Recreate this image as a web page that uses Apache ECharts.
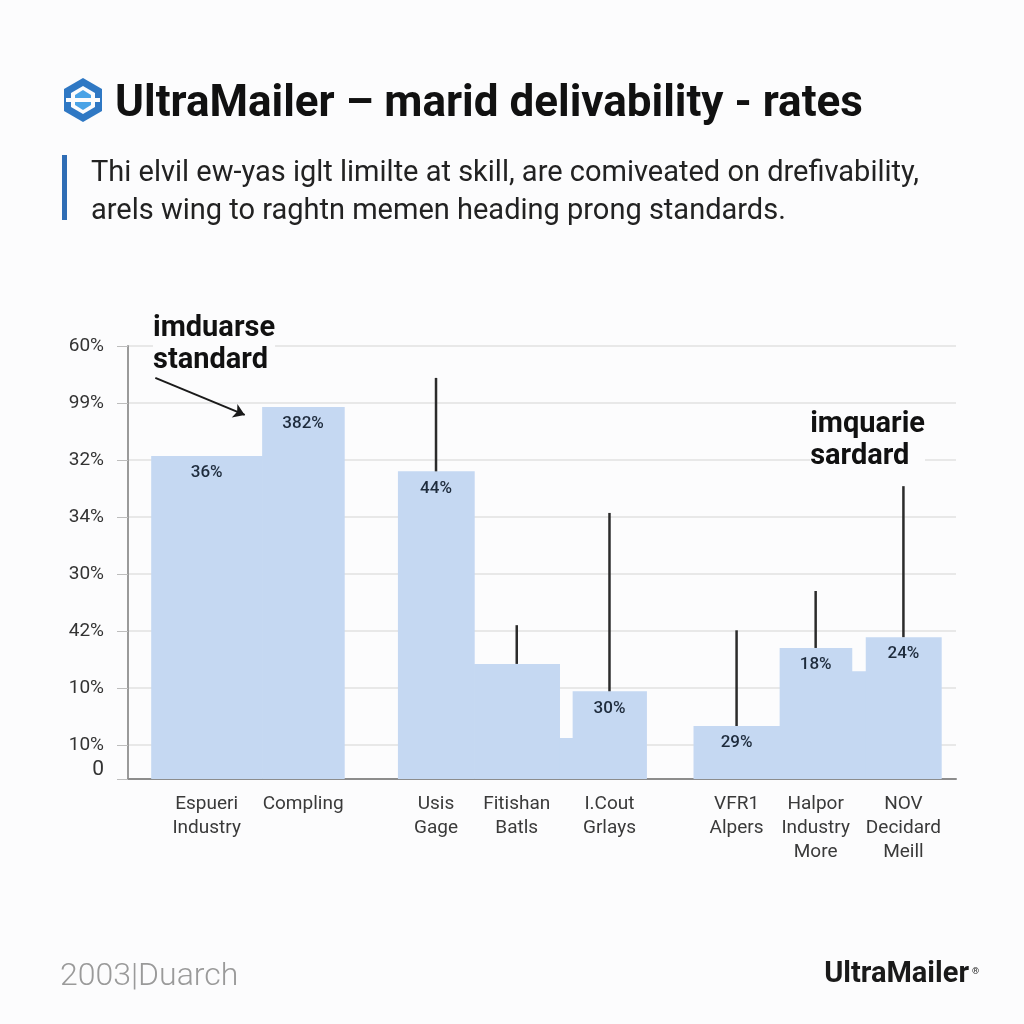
<!DOCTYPE html>
<html lang="en">

<head>
    <title>UltraMailer delivability</title>
    <meta charset="UTF-8">
    <style type="text/css">
        html,
        body {
            margin: 0px;
            width: 100%;
            height: 100%;
            background: #fcfcfd;
        }
    </style>
    <script type="text/javascript" src="https://cdn.jsdelivr.net/npm/echarts@6/dist/echarts.min.js"></script>
</head>

<body onload="draw()">
    <div id="chart" style="width: 1024px; height: 1024px;"></div>
</body>

<script type="text/javascript">
    // bars (two of them are the little unlabeled steps)
    var names = ['Espueri\nIndustry', 'Compling', 'Usis\nGage', 'Fitishan\nBatls', '', 'I.Cout\nGrlays', 'VFR1\nAlpers', 'Halpor\nIndustry\nMore', '', 'NOV\nDecidard\nMeill'];
    var binStart = [2.8, 16.2, 32.6, 41.8, 52.1, 53.7, 68.3, 78.7, 87.4, 89.1];
    var binEnd = [16.2, 26.1, 41.8, 52.1, 53.7, 62.6, 78.7, 87.4, 89.1, 98.2];
    var heights = [56.7, 65.3, 54.0, 20.2, 7.2, 15.4, 9.3, 23.0, 18.9, 24.9];
    var valueLabels = ['36%', '382%', '44%', '', '', '30%', '29%', '18%', '', '24%'];
    var whiskerTop = [null, null, 70.4, 27.0, null, 46.7, 26.1, 33.0, null, 51.4];

    // y ticks
    var yTickValues = [0, 6, 16, 26, 36, 46, 56, 66, 76];
    var yTickLabels = ['0', '10%', '10%', '42%', '30%', '34%', '32%', '99%', '60%'];

    // annotation arrow (data space)
    var arrowFrom = [3.3, 70.4];
    var arrowTo = [14.1, 63.9];

    function draw() {
        var container = document.getElementById("chart");
        var chart = echarts.init(container);

        var barData = [];
        var whiskerData = [];
        var centers = [];
        for (var i = 0; i < names.length; i++) {
            var c = (binStart[i] + binEnd[i]) / 2;
            barData.push([binStart[i], binEnd[i], heights[i]]);
            if (whiskerTop[i] != null) whiskerData.push([c, heights[i], whiskerTop[i]]);
            if (names[i]) centers.push(c);
        }
        var xNames = names.filter(function (n) { return n; });

        var font = 'Roboto, "Liberation Sans", sans-serif';

        var options = {
            backgroundColor: '#fcfcfd',
            textStyle: { fontFamily: font },
            grid: { left: 128, right: 68, top: 346, bottom: 245 },
            xAxis: {
                type: 'value',
                min: 0,
                max: 100,
                axisLine: { show: true, lineStyle: { color: '#8c8c8c', width: 2 } },
                axisTick: { show: false },
                splitLine: { show: false },
                axisLabel: {
                    customValues: centers,
                    formatter: function (v) {
                        for (var k = 0; k < centers.length; k++) {
                            if (Math.abs(centers[k] - v) < 0.01) return xNames[k];
                        }
                        return '';
                    },
                    color: '#3a3a3a',
                    fontSize: 19,
                    lineHeight: 24,
                    margin: 13
                }
            },
            yAxis: {
                type: 'value',
                min: 0,
                max: 76,
                axisLine: { show: true, lineStyle: { color: '#9a9a9a', width: 2 } },
                axisTick: {
                    show: true,
                    customValues: yTickValues,
                    length: 11,
                    lineStyle: { color: '#bdbdbd' }
                },
                splitLine: { show: true, lineStyle: { color: '#e8e8e8', width: 2 } },
                axisLabel: {
                    customValues: yTickValues,
                    formatter: function (v) {
                        var k = yTickValues.indexOf(v);
                        if (k === 0) return '{z|0}';
                        return k >= 0 ? yTickLabels[k] : '';
                    },
                    rich: { z: { fontSize: 21, color: '#333', padding: [0, 0, 18, 0] } },
                    color: '#333',
                    fontSize: 19,
                    margin: 24
                }
            },
            graphic: [
                {
                    type: 'polygon',
                    shape: { points: [[83, 78], [102, 89], [102, 111], [83, 122], [64, 111], [64, 89]] },
                    style: { fill: '#2f78c4' }
                },
                {
                    type: 'polygon',
                    shape: { points: [[83, 86], [95, 93], [95, 107], [83, 114], [71, 107], [71, 93]] },
                    style: { fill: '#fcfcfd' }
                },
                {
                    type: 'polygon',
                    shape: { points: [[83, 90], [91, 95], [91, 105], [83, 110], [75, 105], [75, 95]] },
                    style: { fill: '#4aa3e6' }
                },
                { type: 'rect', shape: { x: 66, y: 98, width: 34, height: 4 }, style: { fill: '#fcfcfd' } },
                {
                    type: 'text', left: 115, top: 83,
                    style: { text: 'UltraMailer – marid delivability - rates', font: 'bold 44px ' + font, fill: '#111' }
                },
                { type: 'rect', shape: { x: 62, y: 155, width: 5, height: 65 }, style: { fill: '#2f6db5' } },
                {
                    type: 'text', left: 91, top: 155,
                    style: {
                        text: 'Thi elvil ew-yas iglt limilte at skill, are comiveated on drefivability,\narels wing to raghtn memen heading prong standards.',
                        font: '29px ' + font, fill: '#222', lineHeight: 38
                    }
                },
                {
                    type: 'text', left: 153, top: 313, z: 100,
                    style: {
                        text: 'imduarse\nstandard', font: 'bold 29px ' + font, fill: '#111', lineHeight: 32,
                        backgroundColor: '#fcfcfd'
                    }
                },
                {
                    type: 'text', right: 99, top: 409, z: 100,
                    style: {
                        text: 'imquarie\nsardard', font: 'bold 29px ' + font, fill: '#111', lineHeight: 32, align: 'right',
                        backgroundColor: '#fcfcfd'
                    }
                },
                {
                    type: 'text', left: 60, top: 961,
                    style: { text: '2003|Duarch', font: '300 32px ' + font, fill: '#9a9a9a' }
                },
                {
                    type: 'text', right: 55, top: 960,
                    style: { text: 'UltraMailer', font: 'bold 29px ' + font, fill: '#1a1a1a' }
                },
                {
                    type: 'text', right: 45, top: 967,
                    style: { text: '®', font: '9px ' + font, fill: '#1a1a1a' }
                }
            ],
            series: [
                {
                    type: 'custom',
                    data: barData,
                    renderItem: function (params, api) {
                        var i = params.dataIndex;
                        var p0 = api.coord([api.value(0), api.value(2)]);
                        var p1 = api.coord([api.value(1), 0]);
                        return {
                            type: 'group',
                            children: [
                                {
                                    type: 'rect',
                                    shape: { x: p0[0], y: p0[1], width: p1[0] - p0[0] + 0.6, height: p1[1] - p0[1] },
                                    style: { fill: '#c5d8f2' }
                                },
                                {
                                    type: 'text',
                                    x: (p0[0] + p1[0]) / 2,
                                    y: p0[1] + 17,
                                    style: {
                                        text: valueLabels[i],
                                        font: '500 17px ' + font,
                                        fill: '#1e2b3c',
                                        align: 'center',
                                        verticalAlign: 'middle'
                                    }
                                }
                            ]
                        };
                    }
                },
                {
                    type: 'custom',
                    data: whiskerData,
                    renderItem: function (params, api) {
                        var a = api.coord([api.value(0), api.value(1)]);
                        var b = api.coord([api.value(0), api.value(2)]);
                        return {
                            type: 'line',
                            shape: { x1: a[0], y1: a[1], x2: b[0], y2: b[1] },
                            style: { stroke: '#2b2b2b', lineWidth: 2.5 }
                        };
                    }
                },
                {
                    type: 'line',
                    data: [],
                    markLine: {
                        silent: true,
                        symbol: ['none', 'arrow'],
                        symbolSize: 11,
                        label: { show: false },
                        lineStyle: { color: '#1a1a1a', width: 2, type: 'solid' },
                        data: [[{ coord: arrowFrom }, { coord: arrowTo }]]
                    }
                }
            ]
        };
        chart.setOption(options);
    }
</script>

</html>
